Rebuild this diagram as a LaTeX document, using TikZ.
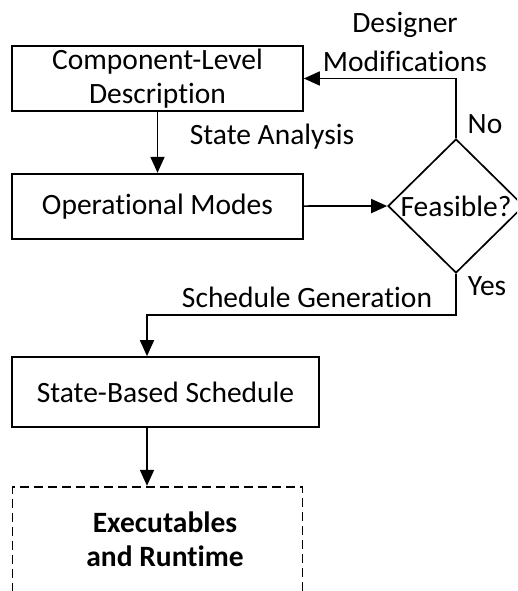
\documentclass[tikz,border=0pt]{standalone}
\usepackage{fontspec}
\setmainfont[Ligatures={NoCommon}]{Carlito}
\usetikzlibrary{arrows.meta,shapes.geometric,positioning}

\tikzset{
	every node/.style={font=\fontsize{29.5pt}{34pt}\selectfont},
	block/.style={draw, rectangle, line width=1.7pt, inner sep=0pt, align=center, minimum width=291pt, minimum height=65pt},
	decision/.style={draw, diamond, line width=1.7pt, inner sep=0pt, minimum width=136pt, minimum height=134pt},
	dashbox/.style={draw, rectangle, line width=1.7pt, dash pattern=on 9pt off 5pt, minimum width=290pt, minimum height=150pt},
	flow/.style={-{Triangle[length=16pt,width=14pt]}, line width=1.7pt},
	lbl/.style={inner sep=0pt, align=center}
}

\begin{document}
\begin{tikzpicture}[x=1pt, y=-1pt]
	\useasboundingbox (0,0) rectangle (517,591);
	\clip (0,0) rectangle (517,591);
	% Draw the blocks
	\node[block]                         (comp)  at (157.5,78.5) {Component-Level\\Description};
	\node[block, below=61pt of comp]     (modes) {Operational Modes};
	\node[decision]                      (feas)  at (456,206) {Feasible?};
	\node[block, minimum width=307pt, minimum height=70pt] (sched) at (165.5,392) {State-Based Schedule};
	\node[dashbox, below=58pt of sched.south -| comp, anchor=north] (exec) {};
	\node[lbl, anchor=south]             (exectxt) at (165,567) {\bfseries Executables\\\bfseries and Runtime};
	% Bends of the connectors
	\coordinate (turn) at (147,315);
	% Connect the blocks with arrows
	\draw[flow] (comp) -- (modes);
	\draw[flow] (modes) -- (feas);
	\draw[flow] (feas.north) |- (comp.east);
	\draw[flow] (feas.south) |- (turn) -- (turn |- sched.north);
	\draw[flow] (sched.south -| turn) -- (exec.north -| turn);
	% Labels of the connectors
	\node[lbl, anchor=south] (dmod)  at (405,72)  {Designer\\[5pt]Modifications};
	\node[lbl, anchor=base]  (no)    at (485,133) {No};
	\node[lbl, anchor=base]  (sa)    at (272,144) {State Analysis};
	\node[lbl, anchor=base]  (yes)   at (487,295) {Yes};
	\node[lbl, anchor=base]  (sg)    at (307,307) {Schedule Generation};
\end{tikzpicture}
\end{document}
